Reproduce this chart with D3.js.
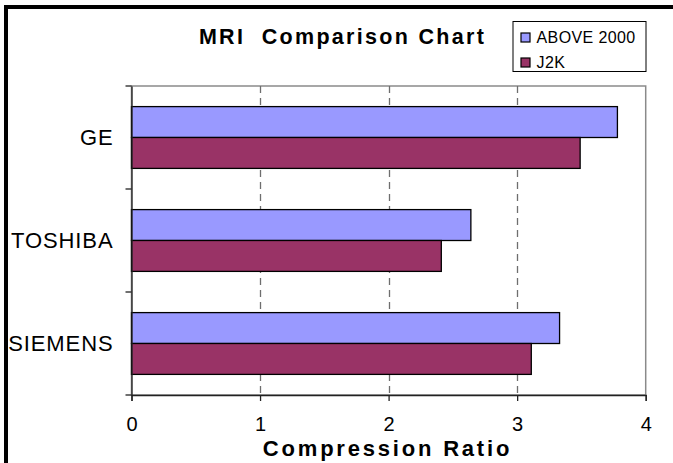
<!DOCTYPE html>
<html><head><meta charset="utf-8">
<script src="https://cdn.jsdelivr.net/npm/d3@7"></script>
<style>
body{margin:0;background:#fff;overflow:hidden}
svg{display:block}
text{font-family:"Liberation Sans",Arial,Helvetica,sans-serif;fill:#000}
</style>
</head><body>
<svg id="c" width="673" height="463"></svg>
<script>
const categories = ["GE", "TOSHIBA", "SIEMENS"];
const seriesNames = ["ABOVE 2000", "J2K"];
const above2000 = [3.78, 2.64, 3.33];
const j2k = [3.49, 2.41, 3.11];
const xTicks = [0, 1, 2, 3, 4];
const seriesColors = ["#9999FF", "#993366"];
const titleText = "MRI\u00a0 Comparison Chart";
const xTitle = "Compression Ratio";

const svg = d3.select("#c");
const plot = {left: 131.5, right: 645.7, top: 86, bottom: 395};

// outer frame (left and top edges visible)
svg.append("path").attr("d", "M6,470V7H680")
  .attr("fill", "none").attr("stroke", "#000").attr("stroke-width", 4);

const x = d3.scaleLinear().domain([0, 4]).range([plot.left, plot.right]);
const y0 = d3.scaleBand().domain(categories).range([plot.top, plot.bottom])
  .paddingInner(0.4).paddingOuter(0.2);
const y1 = d3.scaleBand().domain(seriesNames).range([0, y0.bandwidth()]);

const data = categories.map((c, i) => ({cat: c, vals: [above2000[i], j2k[i]]}));

// plot border
svg.append("rect").attr("x", plot.left).attr("y", plot.top)
  .attr("width", plot.right - plot.left).attr("height", plot.bottom - plot.top)
  .attr("fill", "#fff").attr("stroke", "#8a8a8a").attr("stroke-width", 1.5);

// gridlines
svg.append("g").selectAll("line").data(xTicks.filter(t => t > 0 && t < 4)).join("line")
  .attr("x1", d => Math.round(x(d)) + 0.5).attr("x2", d => Math.round(x(d)) + 0.5)
  .attr("y1", plot.top).attr("y2", plot.bottom)
  .attr("stroke", "#6e6e6e").attr("stroke-width", 1.3).attr("stroke-dasharray", "7,5");

// bars
const g = svg.append("g");
data.forEach(d => {
  g.append("g").attr("transform", `translate(0,${y0(d.cat)})`)
    .selectAll("rect").data(d.vals.map((v, j) => ({v, s: seriesNames[j], j}))).join("rect")
    .attr("x", x(0)).attr("y", e => y1(e.s))
    .attr("width", e => x(e.v) - x(0)).attr("height", y1.bandwidth())
    .attr("fill", e => seriesColors[e.j]).attr("stroke", "#000").attr("stroke-width", 1.3);
});

// x axis
const xAxis = d3.axisBottom(x).tickValues(xTicks).tickSize(6).tickPadding(16).tickFormat(d3.format("d"));
const gx = svg.append("g").attr("transform", `translate(0,${plot.bottom})`).call(xAxis);
gx.select(".domain").attr("stroke", "#222").attr("stroke-width", 1.3);
gx.selectAll(".tick line").attr("stroke", "#222").attr("stroke-width", 1.3);
gx.selectAll(".tick text").attr("font-size", 20).attr("font-family", '"Liberation Sans",Arial,sans-serif')
  .attr("fill", "#000").attr("dy", "0.71em");

// y axis (category)
const yAxis = d3.axisLeft(y0).tickSize(0).tickPadding(18);
const gy = svg.append("g").attr("transform", `translate(${plot.left},0)`).call(yAxis);
gy.select(".domain").attr("stroke", "#222").attr("stroke-width", 1.3);
gy.selectAll(".tick text").attr("font-size", 22).attr("letter-spacing", 0.9)
  .attr("font-family", '"Liberation Sans",Arial,sans-serif').attr("fill", "#000")
  .attr("dy", "0.36em");

// category boundary ticks
const step = y0.step();
const bounds = categories.map(c => y0(c) - step * y0.paddingInner() / 2).concat([plot.bottom]);
svg.append("g").selectAll("line").data(bounds).join("line")
  .attr("x1", plot.left - 6).attr("x2", plot.left)
  .attr("y1", d => d).attr("y2", d => d)
  .attr("stroke", "#222").attr("stroke-width", 1.3);

// title
svg.append("text").attr("x", 342.5).attr("y", 44).attr("text-anchor", "middle")
  .attr("font-size", 21.5).attr("font-weight", "bold").attr("letter-spacing", 2.3)
  .text(titleText);

// x title
svg.append("text").attr("x", 387.5).attr("y", 456).attr("text-anchor", "middle")
  .attr("font-size", 22).attr("font-weight", "bold").attr("letter-spacing", 2.8)
  .text(xTitle);

// legend
const lg = svg.append("g");
lg.append("rect").attr("x", 513).attr("y", 21.5).attr("width", 133).attr("height", 50)
  .attr("fill", "#fff").attr("stroke", "#000").attr("stroke-width", 1);
seriesNames.forEach((s, j) => {
  const yy = 33 + j * 25;
  lg.append("rect").attr("x", 521).attr("y", yy).attr("width", 9).attr("height", 9)
    .attr("fill", seriesColors[j]).attr("stroke", "#000").attr("stroke-width", 1.2);
  lg.append("text").attr("x", 536.5).attr("y", yy + 10).attr("font-size", 16)
    .attr("letter-spacing", 0.4).text(s);
});
</script>
</body></html>
